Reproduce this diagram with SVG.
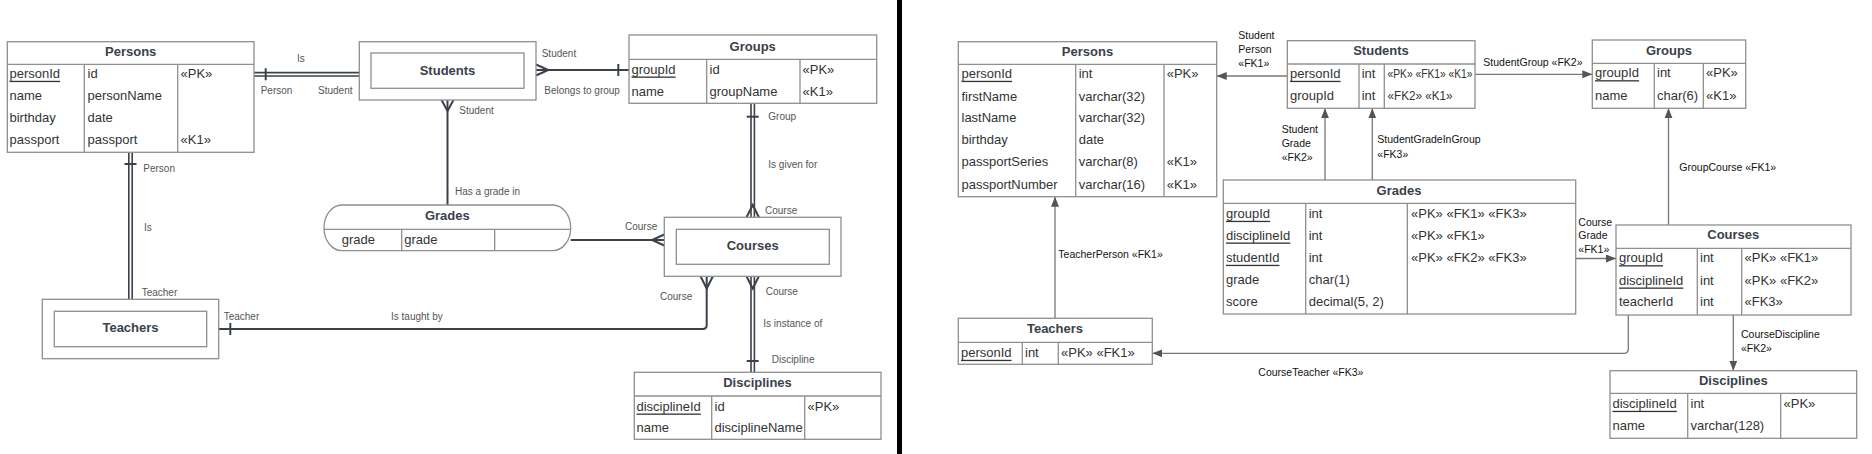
<svg xmlns="http://www.w3.org/2000/svg" width="1872" height="454" viewBox="0 0 1872 454">
<defs>
<style>
.bg{fill:#fff}
.tb{fill:#fff;stroke:#8f8f8f;stroke-width:1.3}
.ln{stroke:#8f8f8f;stroke-width:1.3;fill:none}
.t{font-family:"Liberation Sans",Arial,sans-serif;font-size:13px;fill:#333;dominant-baseline:central}
.h{font-weight:bold;fill:#3a414a;text-anchor:middle}
.u{text-decoration:underline}
.lb{font-family:"Liberation Sans",Arial,sans-serif;font-size:10px;fill:#555;dominant-baseline:central}
.rl{font-family:"Liberation Sans",Arial,sans-serif;font-size:10.5px;fill:#111;dominant-baseline:central}
.c{stroke:#3a414a;stroke-width:2;fill:none}
.d{stroke:#3a414a;stroke-width:5;fill:none}
.dw{stroke:#fff;stroke-width:1.8;fill:none}
.a{stroke:#777;stroke-width:1.3;fill:none;marker-end:url(#arr)}
</style>
<marker id="arr" markerUnits="userSpaceOnUse" markerWidth="12" markerHeight="10" refX="10" refY="4" orient="auto">
<path d="M0,0 L10,4 L0,8 Z" fill="#555"/>
</marker>
</defs>
<rect class="bg" x="0" y="0" width="1872" height="454"/>

<!-- LEFT: Chen-style ER diagram -->
<g id="connectors-left">
  <!-- Persons - Students (double) -->
  <line class="d" x1="254" y1="74.3" x2="359.3" y2="74.3"/>
  <line class="dw" x1="254" y1="74.3" x2="359.3" y2="74.3"/>
  <line class="c" x1="265.7" y1="68.3" x2="265.7" y2="80.3"/>
  <!-- Persons - Teachers (double) -->
  <line class="d" x1="130.5" y1="152.3" x2="130.5" y2="299.3"/>
  <line class="dw" x1="130.5" y1="152.3" x2="130.5" y2="299.3"/>
  <line class="c" x1="124.5" y1="164" x2="136.5" y2="164"/>
  <!-- Students - Groups -->
  <line class="c" x1="536" y1="70" x2="629" y2="70"/>
  <polyline class="c" points="536,64.5 548.3,70 536,75.5"/>
  <line class="c" x1="618.3" y1="64" x2="618.3" y2="76"/>
  <!-- Students - Grades -->
  <line class="c" x1="447.5" y1="100" x2="447.5" y2="205"/>
  <polyline class="c" points="441.5,100 447.5,111 453.5,100"/>
  <!-- Grades - Courses -->
  <line class="c" x1="570.7" y1="240" x2="664.3" y2="240"/>
  <polyline class="c" points="664.3,234.5 652,240 664.3,245.5"/>
  <!-- Groups - Courses (double) -->
  <line class="d" x1="752.7" y1="103.3" x2="752.7" y2="217.3"/>
  <line class="dw" x1="752.7" y1="103.3" x2="752.7" y2="217.3"/>
  <line class="c" x1="746.7" y1="116.7" x2="758.7" y2="116.7"/>
  <polyline class="c" points="746.5,217.3 752.7,205 758.9,217.3"/>
  <!-- Courses - Disciplines (double) -->
  <line class="d" x1="752.7" y1="276.3" x2="752.7" y2="372.3"/>
  <line class="dw" x1="752.7" y1="276.3" x2="752.7" y2="372.3"/>
  <polyline class="c" points="746.5,276.3 752.7,288.5 758.9,276.3"/>
  <line class="c" x1="746.7" y1="361" x2="758.7" y2="361"/>
  <!-- Teachers - Courses -->
  <path class="c" d="M218.7,329 H702.7 Q706.7,329 706.7,325 V276.3"/>
  <polyline class="c" points="700.5,276.3 706.7,288.5 712.9,276.3"/>
  <line class="c" x1="230.3" y1="323" x2="230.3" y2="335"/>
  <!-- labels -->
  <text class="lb" x="297" y="58">Is</text>
  <text class="lb" x="260.7" y="90">Person</text>
  <text class="lb" x="318" y="90">Student</text>
  <text class="lb" x="143.3" y="168">Person</text>
  <text class="lb" x="144" y="227.7">Is</text>
  <text class="lb" x="141.7" y="292.3">Teacher</text>
  <text class="lb" x="541.7" y="53.3">Student</text>
  <text class="lb" x="544.3" y="90">Belongs to group</text>
  <text class="lb" x="459.3" y="110">Student</text>
  <text class="lb" x="455" y="191.7">Has a grade in</text>
  <text class="lb" x="768.3" y="116.7">Group</text>
  <text class="lb" x="768.3" y="164">Is given for</text>
  <text class="lb" x="765" y="210">Course</text>
  <text class="lb" x="625" y="226.7">Course</text>
  <text class="lb" x="223.7" y="316.7">Teacher</text>
  <text class="lb" x="391" y="316.7">Is taught by</text>
  <text class="lb" x="660" y="296.7">Course</text>
  <text class="lb" x="765.7" y="291.7">Course</text>
  <text class="lb" x="763.3" y="323.3">Is instance of</text>
  <text class="lb" x="771.7" y="359">Discipline</text>
</g>

<g id="l-persons">
  <rect class="tb" x="7.3" y="41.7" width="246.7" height="110.6"/>
  <line class="ln" x1="7.3" y1="64.3" x2="254" y2="64.3"/>
  <line class="ln" x1="84.3" y1="64.3" x2="84.3" y2="152.3"/>
  <line class="ln" x1="177.7" y1="64.3" x2="177.7" y2="152.3"/>
  <text class="t h" x="130.7" y="51.5">Persons</text>
  <text class="t u" x="9.5" y="73.3">personId</text>
  <text class="t" x="9.5" y="95.5">name</text>
  <text class="t" x="9.5" y="117.3">birthday</text>
  <text class="t" x="9.5" y="139.3">passport</text>
  <text class="t" x="87.5" y="73.3">id</text>
  <text class="t" x="87.5" y="95.5">personName</text>
  <text class="t" x="87.5" y="117.3">date</text>
  <text class="t" x="87.5" y="139.3">passport</text>
  <text class="t" x="180.5" y="73.3">«PK»</text>
  <text class="t" x="180.5" y="139.3">«K1»</text>
</g>

<g id="l-students">
  <rect class="tb" x="359.3" y="41.7" width="176.7" height="58.3"/>
  <rect class="tb" x="371" y="53" width="153" height="35.3"/>
  <text class="t h" x="447.5" y="70.5">Students</text>
</g>

<g id="l-groups">
  <rect class="tb" x="629" y="35" width="247.7" height="68.3"/>
  <line class="ln" x1="629" y1="59.3" x2="876.7" y2="59.3"/>
  <line class="ln" x1="706.7" y1="59.3" x2="706.7" y2="103.3"/>
  <line class="ln" x1="800" y1="59.3" x2="800" y2="103.3"/>
  <text class="t h" x="752.7" y="46.7">Groups</text>
  <text class="t u" x="631.5" y="69">groupId</text>
  <text class="t" x="631.5" y="91">name</text>
  <text class="t" x="709.5" y="69">id</text>
  <text class="t" x="709.5" y="91">groupName</text>
  <text class="t" x="802.5" y="69">«PK»</text>
  <text class="t" x="802.5" y="91">«K1»</text>
</g>

<g id="l-grades">
  <rect class="tb" x="324" y="205" width="246.7" height="45.7" rx="18" ry="22.8"/>
  <line class="ln" x1="324" y1="229.3" x2="570.7" y2="229.3"/>
  <line class="ln" x1="401.7" y1="229.3" x2="401.7" y2="250.7"/>
  <line class="ln" x1="494.7" y1="229.3" x2="494.7" y2="250.7"/>
  <text class="t h" x="447.3" y="215.7">Grades</text>
  <text class="t" x="341.7" y="239">grade</text>
  <text class="t" x="404.3" y="239">grade</text>
</g>

<g id="l-courses">
  <rect class="tb" x="664.3" y="217.3" width="176.7" height="59"/>
  <rect class="tb" x="676.3" y="229.3" width="153" height="35"/>
  <text class="t h" x="752.7" y="245.5">Courses</text>
</g>

<g id="l-teachers">
  <rect class="tb" x="42.3" y="299.3" width="176.4" height="59.4"/>
  <rect class="tb" x="54.3" y="311.3" width="152.4" height="35.4"/>
  <text class="t h" x="130.5" y="327.5">Teachers</text>
</g>

<g id="l-disciplines">
  <rect class="tb" x="634.3" y="372.3" width="246.7" height="67"/>
  <line class="ln" x1="634.3" y1="396" x2="881" y2="396"/>
  <line class="ln" x1="711.7" y1="396" x2="711.7" y2="439.3"/>
  <line class="ln" x1="804.7" y1="396" x2="804.7" y2="439.3"/>
  <text class="t h" x="757.5" y="382.7">Disciplines</text>
  <text class="t u" x="636.5" y="406">disciplineId</text>
  <text class="t" x="636.5" y="427.7">name</text>
  <text class="t" x="714.5" y="406">id</text>
  <text class="t" x="714.5" y="427.7">disciplineName</text>
  <text class="t" x="807.5" y="406">«PK»</text>
</g>

<!-- divider -->
<rect x="897" y="0" width="5" height="454" fill="#000"/>

<!-- RIGHT: relational schema -->
<g id="connectors-right">
  <line class="a" x1="1287.3" y1="76" x2="1216.7" y2="76"/>
  <line class="a" x1="1475" y1="74.3" x2="1592.3" y2="74.3"/>
  <line class="a" x1="1325" y1="180" x2="1325" y2="108.3"/>
  <line class="a" x1="1372.3" y1="180" x2="1372.3" y2="108.3"/>
  <line class="a" x1="1575.7" y1="258.5" x2="1616" y2="258.5"/>
  <line class="a" x1="1668.5" y1="225" x2="1668.5" y2="108.3"/>
  <line class="a" x1="1733.3" y1="315" x2="1733.3" y2="370.7"/>
  <line class="a" x1="1055" y1="318.3" x2="1055" y2="196.7"/>
  <path class="a" d="M1628.3,315 V349 Q1628.3,353.3 1624,353.3 H1152.3"/>
  <text class="rl" x="1238.3"><tspan x="1238.3" y="35">Student</tspan><tspan x="1238.3" y="49.3">Person</tspan><tspan x="1238.3" y="63.3">«FK1»</tspan></text>
  <text class="rl" x="1483.3" y="62.3">StudentGroup «FK2»</text>
  <text class="rl"><tspan x="1281.7" y="129.3">Student</tspan><tspan x="1281.7" y="143.3">Grade</tspan><tspan x="1281.7" y="157">«FK2»</tspan></text>
  <text class="rl"><tspan x="1377.3" y="139.3">StudentGradeInGroup</tspan><tspan x="1377.3" y="154">«FK3»</tspan></text>
  <text class="rl" x="1679.3" y="167.3">GroupCourse «FK1»</text>
  <text class="rl"><tspan x="1578.3" y="221.7">Course</tspan><tspan x="1578.3" y="235.3">Grade</tspan><tspan x="1578.3" y="249.3">«FK1»</tspan></text>
  <text class="rl"><tspan x="1741" y="334.3">CourseDiscipline</tspan><tspan x="1741" y="348.3">«FK2»</tspan></text>
  <text class="rl" x="1058.3" y="254.3">TeacherPerson «FK1»</text>
  <text class="rl" x="1258.3" y="371.7">CourseTeacher «FK3»</text>
</g>

<g id="r-persons">
  <rect class="tb" x="958.3" y="41.7" width="258.4" height="155"/>
  <line class="ln" x1="958.3" y1="64.3" x2="1216.7" y2="64.3"/>
  <line class="ln" x1="1075.7" y1="64.3" x2="1075.7" y2="196.7"/>
  <line class="ln" x1="1164" y1="64.3" x2="1164" y2="196.7"/>
  <text class="t h" x="1087.5" y="51.5">Persons</text>
  <text class="t u" x="961.5" y="73.3">personId</text>
  <text class="t" x="961.5" y="96">firstName</text>
  <text class="t" x="961.5" y="117.7">lastName</text>
  <text class="t" x="961.5" y="139.3">birthday</text>
  <text class="t" x="961.5" y="161.7">passportSeries</text>
  <text class="t" x="961.5" y="184">passportNumber</text>
  <text class="t" x="1078.7" y="73.3">int</text>
  <text class="t" x="1078.7" y="96">varchar(32)</text>
  <text class="t" x="1078.7" y="117.7">varchar(32)</text>
  <text class="t" x="1078.7" y="139.3">date</text>
  <text class="t" x="1078.7" y="161.7">varchar(8)</text>
  <text class="t" x="1078.7" y="184">varchar(16)</text>
  <text class="t" x="1166.7" y="73.3">«PK»</text>
  <text class="t" x="1166.7" y="161.7">«K1»</text>
  <text class="t" x="1166.7" y="184">«K1»</text>
</g>

<g id="r-students">
  <rect class="tb" x="1287.3" y="40.7" width="187.7" height="67.6"/>
  <line class="ln" x1="1287.3" y1="64" x2="1475" y2="64"/>
  <line class="ln" x1="1359" y1="64" x2="1359" y2="108.3"/>
  <line class="ln" x1="1384.3" y1="64" x2="1384.3" y2="108.3"/>
  <text class="t h" x="1381" y="50.7">Students</text>
  <text class="t u" x="1290" y="73.3">personId</text>
  <text class="t" x="1290" y="95.7">groupId</text>
  <text class="t" x="1361.7" y="73.3">int</text>
  <text class="t" x="1361.7" y="95.7">int</text>
  <text class="t" x="1387.5" y="73.3" textLength="85" lengthAdjust="spacingAndGlyphs">«PK» «FK1» «K1»</text>
  <text class="t" x="1387.5" y="95.7" textLength="65" lengthAdjust="spacingAndGlyphs">«FK2»  «K1»</text>
</g>

<g id="r-groups">
  <rect class="tb" x="1592.3" y="40" width="153.4" height="68.3"/>
  <line class="ln" x1="1592.3" y1="63.3" x2="1745.7" y2="63.3"/>
  <line class="ln" x1="1654.3" y1="63.3" x2="1654.3" y2="108.3"/>
  <line class="ln" x1="1703.3" y1="63.3" x2="1703.3" y2="108.3"/>
  <text class="t h" x="1669" y="50">Groups</text>
  <text class="t u" x="1595" y="72.7">groupId</text>
  <text class="t" x="1595" y="95">name</text>
  <text class="t" x="1657" y="72.7">int</text>
  <text class="t" x="1657" y="95">char(6)</text>
  <text class="t" x="1706" y="72.7">«PK»</text>
  <text class="t" x="1706" y="95">«K1»</text>
</g>

<g id="r-grades">
  <rect class="tb" x="1223.3" y="180" width="352.4" height="134"/>
  <line class="ln" x1="1223.3" y1="203.3" x2="1575.7" y2="203.3"/>
  <line class="ln" x1="1305.7" y1="203.3" x2="1305.7" y2="314"/>
  <line class="ln" x1="1407.3" y1="203.3" x2="1407.3" y2="314"/>
  <text class="t h" x="1399" y="190">Grades</text>
  <text class="t u" x="1226" y="213.3">groupId</text>
  <text class="t u" x="1226" y="235">disciplineId</text>
  <text class="t u" x="1226" y="257.3">studentId</text>
  <text class="t" x="1226" y="279.3">grade</text>
  <text class="t" x="1226" y="301">score</text>
  <text class="t" x="1308.7" y="213.3">int</text>
  <text class="t" x="1308.7" y="235">int</text>
  <text class="t" x="1308.7" y="257.3">int</text>
  <text class="t" x="1308.7" y="279.3">char(1)</text>
  <text class="t" x="1308.7" y="301">decimal(5, 2)</text>
  <text class="t" x="1411" y="213.3">«PK» «FK1» «FK3»</text>
  <text class="t" x="1411" y="235">«PK» «FK1»</text>
  <text class="t" x="1411" y="257.3">«PK» «FK2» «FK3»</text>
</g>

<g id="r-courses">
  <rect class="tb" x="1616" y="225" width="235" height="90"/>
  <line class="ln" x1="1616" y1="248.3" x2="1851" y2="248.3"/>
  <line class="ln" x1="1697.3" y1="248.3" x2="1697.3" y2="315"/>
  <line class="ln" x1="1741.7" y1="248.3" x2="1741.7" y2="315"/>
  <text class="t h" x="1733.3" y="234.3">Courses</text>
  <text class="t u" x="1619" y="257.7">groupId</text>
  <text class="t u" x="1619" y="280">disciplineId</text>
  <text class="t" x="1619" y="301.7">teacherId</text>
  <text class="t" x="1700" y="257.7">int</text>
  <text class="t" x="1700" y="280">int</text>
  <text class="t" x="1700" y="301.7">int</text>
  <text class="t" x="1744.5" y="257.7">«PK» «FK1»</text>
  <text class="t" x="1744.5" y="280">«PK» «FK2»</text>
  <text class="t" x="1744.5" y="301.7">«FK3»</text>
</g>

<g id="r-teachers">
  <rect class="tb" x="958.3" y="318.3" width="194" height="46"/>
  <line class="ln" x1="958.3" y1="342.3" x2="1152.3" y2="342.3"/>
  <line class="ln" x1="1022.3" y1="342.3" x2="1022.3" y2="364.3"/>
  <line class="ln" x1="1058.3" y1="342.3" x2="1058.3" y2="364.3"/>
  <text class="t h" x="1055" y="328.5">Teachers</text>
  <text class="t u" x="961" y="352.3">personId</text>
  <text class="t" x="1025" y="352.3">int</text>
  <text class="t" x="1061" y="352.3">«PK» «FK1»</text>
</g>

<g id="r-disciplines">
  <rect class="tb" x="1610" y="370.7" width="246.7" height="67.6"/>
  <line class="ln" x1="1610" y1="393.3" x2="1856.7" y2="393.3"/>
  <line class="ln" x1="1687.7" y1="393.3" x2="1687.7" y2="438.3"/>
  <line class="ln" x1="1780.7" y1="393.3" x2="1780.7" y2="438.3"/>
  <text class="t h" x="1733.3" y="380.3">Disciplines</text>
  <text class="t u" x="1612.5" y="403.3">disciplineId</text>
  <text class="t" x="1612.5" y="425.7">name</text>
  <text class="t" x="1690.5" y="403.3">int</text>
  <text class="t" x="1690.5" y="425.7">varchar(128)</text>
  <text class="t" x="1783.5" y="403.3">«PK»</text>
</g>
</svg>
